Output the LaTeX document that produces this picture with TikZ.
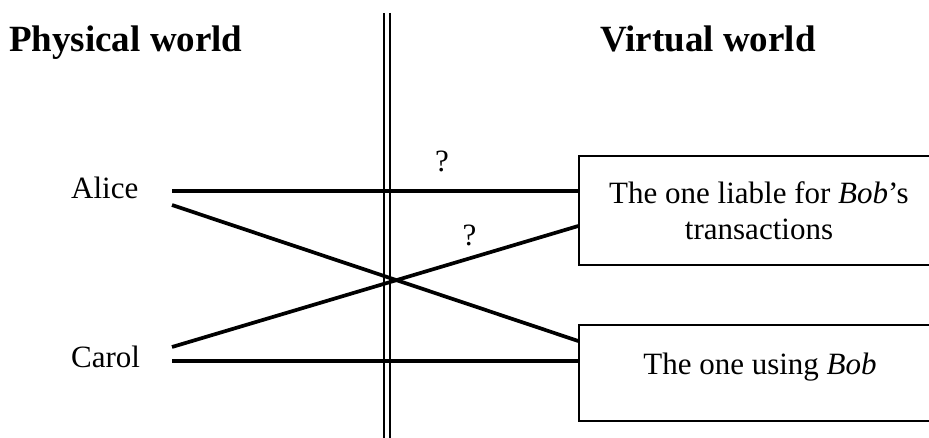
\documentclass[tikz,border=0pt]{standalone}
\usepackage{fontspec}
\setmainfont{Liberation Serif}
\usepackage{tikz}

\tikzset{
    body/.style={font=\fontsize{31pt}{35.5pt}\selectfont, inner sep=0pt},
    heading/.style={font=\fontsize{37pt}{42pt}\selectfont\bfseries, inner sep=0pt, anchor=base west},
    idbox/.style={draw, rectangle, line width=1.5pt, align=center, inner sep=0pt,
        font=\fontsize{31pt}{35.5pt}\selectfont},
    link/.style={line width=3.7pt}
}

\begin{document}
\begin{tikzpicture}[x=1pt, y=-1pt]
    \useasboundingbox (0,0) rectangle (929,438);

    % Headings
    \node[heading] (physical) at (9,52) {Physical world};
    \node[heading] (virtual) at (600,52) {Virtual world};

    % Border between the two worlds
    \coordinate (border top) at (387,13);
    \coordinate (border bottom) at (387,445);
    \draw[double, double distance=3.5pt, line width=2.5pt] (border top) -- (border bottom);

    % People
    \node[body, anchor=base west] (alice) at (71,199) {Alice};
    \node[body, anchor=base west] (carol) at (71,367) {Carol};

    % Identities
    \node[idbox, minimum width=360pt, minimum height=109pt] (liable) at (759,210.5)
        {The one liable for \textit{Bob}'s\\transactions};
    \node[idbox, minimum width=362pt, minimum height=96pt, text height=21pt, text depth=19pt] (using) at (760,373)
        {The one using \textit{Bob}};

    % Line ends
    \coordinate (alice top) at (172,191);
    \coordinate (alice low) at (172,205);
    \coordinate (carol up) at (172,347);
    \coordinate (carol low) at (172,361);
    \coordinate (liable in) at (liable.west |- 0,226);
    \coordinate (using in) at (using.west |- 0,341);

    % Links
    \draw[link] (alice top) -- (alice top -| liable.west);
    \draw[link] (alice low) -- (using in);
    \draw[link] (carol up) -- (liable in);
    \draw[link] (carol low) -- (carol low -| using.west);

    % Question marks
    \node[body, anchor=base] (q1) at (442,172) {?};
    \node[body, anchor=base] (q2) at (469.5,246) {?};
\end{tikzpicture}
\end{document}
